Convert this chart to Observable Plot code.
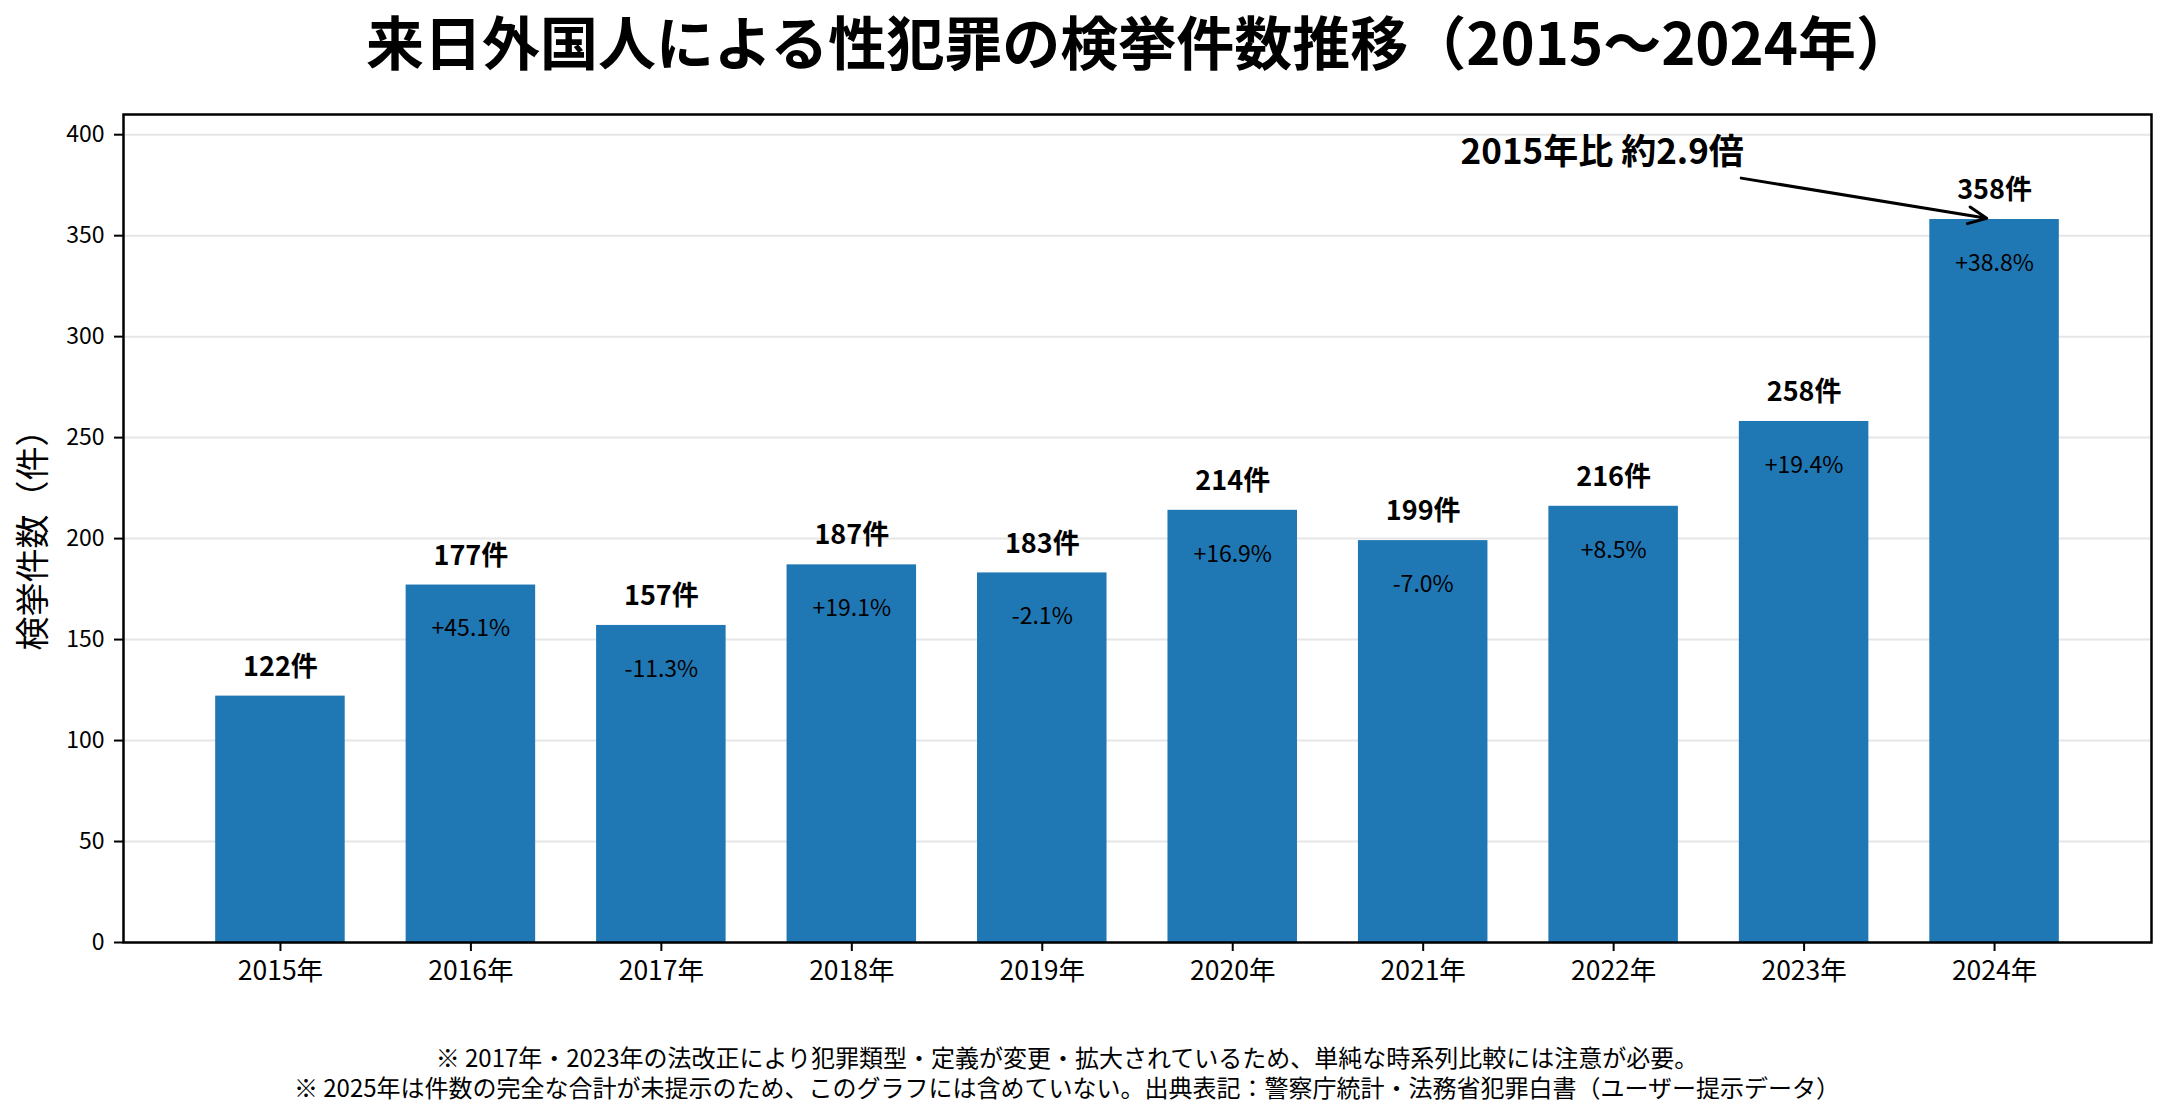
<!DOCTYPE html>
<html lang="ja">
<head>
<meta charset="utf-8">
<script src="https://cdn.jsdelivr.net/npm/d3@7"></script>
<script src="https://cdn.jsdelivr.net/npm/@observablehq/plot@0.6"></script>
<style>
  html, body { margin: 0; padding: 0; background: white; }
  body { width: 2168px; height: 1118px; overflow: hidden; font-family: "Noto Sans CJK JP", "Noto Sans", sans-serif; color: black; }
  #title { width: 2168px; height: 100px; line-height: 80px; box-sizing: border-box; padding-left: 112px;
           text-align: center; font-size: 58px; font-weight: bold; white-space: nowrap; }
  #chart { height: 902px; }
  #note { width: 2168px; box-sizing: border-box; padding-right: 34px; padding-top: 40px;
          text-align: center; font-size: 24px; line-height: 30px; white-space: nowrap; }
  #note div { height: 30px; overflow: visible; }
</style>
</head>
<body>
<div id="title"></div>
<div id="chart"></div>
<div id="note"></div>
<script>
// ---- data ----
const titleText = "来日外国人による性犯罪の検挙件数推移（2015〜2024年）";
const yearLabels = ["2015年", "2016年", "2017年", "2018年", "2019年", "2020年", "2021年", "2022年", "2023年", "2024年"];
const counts = [122, 177, 157, 187, 183, 214, 199, 216, 258, 358];
const changeLabels = [null, "+45.1%", "-11.3%", "+19.1%", "-2.1%", "+16.9%", "-7.0%", "+8.5%", "+19.4%", "+38.8%"];
const yTicks = [0, 50, 100, 150, 200, 250, 300, 350, 400];
const yLabel = "検挙件数（件）";
const annotation = { label: "2015年比 約2.9倍", textX: 6.94, textY: 391, fromX: 7.67, fromY: 378.5, toX: 9, toY: 358 };
const notes = [
  "※ 2017年・2023年の法改正により犯罪類型・定義が変更・拡大されているため、単純な時系列比較には注意が必要。",
  "※ 2025年は件数の完全な合計が未提示のため、このグラフには含めていない。出典表記：警察庁統計・法務省犯罪白書（ユーザー提示データ）"
];

const barHalf = 0.34;
const data = yearLabels.map((label, i) => ({ i, label, count: counts[i], change: changeLabels[i] }));
const xIdx = yearLabels.map((_, i) => i);

document.getElementById("title").textContent = titleText;
document.getElementById("note").innerHTML = notes.map(n => `<div>${n}</div>`).join("");

const chart = Plot.plot({
  width: 2168,
  height: 902,
  marginLeft: 123,
  marginRight: 17,
  marginTop: 14,
  marginBottom: 60,
  style: { fontFamily: "'Noto Sans CJK JP', 'Noto Sans', sans-serif", fontSize: "23px", background: "white", color: "black" },
  x: { type: "linear", domain: [-0.824, 9.824] },
  y: { domain: [0, 410] },
  marks: [
    Plot.gridY(yTicks, { stroke: "#e6e6e6", strokeOpacity: 1, strokeWidth: 2 }),
    Plot.rectY(data, { x1: d => d.i - barHalf, x2: d => d.i + barHalf, y1: 0, y2: "count", fill: "#1f77b4" }),
    Plot.text(data, { x: "i", y: "count", text: d => `${d.count}件`, dy: -29, fontSize: 27, fontWeight: "bold", fill: "black" }),
    Plot.text(data.filter(d => d.change), { x: "i", y: "count", text: "change", dy: 44, fontSize: 23, fill: "black" }),
    Plot.axisY({ ticks: yTicks, tickSize: 9, tickPadding: 10, fontSize: 23, strokeWidth: 2, label: null, tickFormat: d => String(d) }),
    Plot.axisX({ ticks: xIdx, tickSize: 9, tickPadding: 10, fontSize: 26.5, strokeWidth: 2, label: null, tickFormat: i => yearLabels[i] }),
    Plot.text([yLabel], { frameAnchor: "left", textAnchor: "middle", lineAnchor: "middle", rotate: -90, dx: -89, dy: 3, fontSize: 34, text: d => d, fill: "black" }),
    Plot.arrow([annotation], { x1: "fromX", y1: "fromY", x2: "toX", y2: "toY", stroke: "black", strokeWidth: 3, headLength: 10, headAngle: 50, insetEnd: 8 }),
    Plot.text([annotation], { x: "textX", y: "textY", text: "label", fontSize: 35, fontWeight: "bold", fill: "black" }),
    Plot.frame({ stroke: "black", strokeWidth: 2.5 })
  ]
});
document.getElementById("chart").appendChild(chart);
</script>
</body>
</html>
